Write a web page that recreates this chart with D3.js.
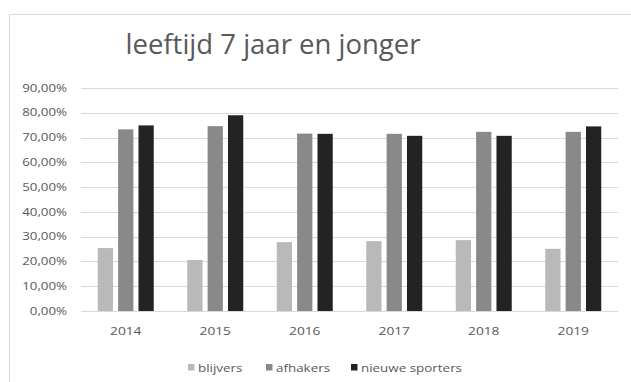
<!DOCTYPE html>
<html>
<head>
<meta charset="utf-8">
<script src="https://cdn.jsdelivr.net/npm/d3@7"></script>
<style>
  html, body { margin: 0; padding: 0; background: #fff; }
  svg { display: block; }
  text { font-family: "Open Sans", "Noto Sans", sans-serif; fill: #595959; }
</style>
</head>
<body>
<svg id="chart" width="631" height="382"></svg>
<script>
// Chart data
const years = ["2014", "2015", "2016", "2017", "2018", "2019"];
const seriesNames = ["blijvers", "afhakers", "nieuwe sporters"];
const blijvers = [25.4, 20.6, 27.8, 28.2, 28.6, 25.1];
const afhakers = [73.3, 74.6, 71.6, 71.5, 72.3, 72.3];
const nieuweSporters = [74.9, 79.0, 71.5, 70.7, 70.7, 74.5];
const yTicks = [0, 10, 20, 30, 40, 50, 60, 70, 80, 90];
const seriesColors = ["#b9b9b9", "#898989", "#232323"];
const title = "leeftijd 7 jaar en jonger";

const seriesValues = [blijvers, afhakers, nieuweSporters];
const rows = years.map((y, i) => ({
  year: y,
  values: seriesNames.map((s, k) => ({ key: s, value: seriesValues[k][i], color: seriesColors[k] }))
}));

const svg = d3.select("#chart");
const W = 631, H = 382;
const plot = { left: 81, right: 618, top: 88, bottom: 311 };
// horizontal widening applied to the small labels
const labelStretch = 1.33;

// Chart area frame
svg.append("rect")
  .attr("x", 9.5).attr("y", 14.5)
  .attr("width", W + 10).attr("height", H + 10)
  .attr("fill", "#fff")
  .attr("stroke", "#d9d9d9").attr("stroke-width", 1);

// Title
svg.append("text")
  .attr("x", 273).attr("y", 54)
  .attr("text-anchor", "middle")
  .attr("font-size", 27.5)
  .style("fill", "#595959")
  .text(title);

const x0 = d3.scaleBand().domain(years).range([plot.left, plot.right]).paddingInner(0).paddingOuter(0);
const x1 = d3.scaleBand().domain(seriesNames).range([-28, 28]).paddingInner(0.25);
const y = d3.scaleLinear().domain([0, 90]).range([plot.bottom, plot.top]);

// Gridlines
svg.append("g")
  .selectAll("line")
  .data(yTicks)
  .join("line")
  .attr("x1", plot.left).attr("x2", plot.right)
  .attr("y1", d => Math.round(y(d)) + 0.5).attr("y2", d => Math.round(y(d)) + 0.5)
  .attr("stroke", "#d9d9d9").attr("stroke-width", 1);

// Y axis labels
const yAxis = d3.axisLeft(y)
  .tickValues(yTicks)
  .tickSize(0)
  .tickPadding(0)
  .tickFormat(d => d3.format(".2f")(d).replace(".", ",") + "%");
const gy = svg.append("g").attr("transform", `translate(67,0)`).call(yAxis);
gy.select(".domain").remove();
gy.selectAll("text")
  .attr("font-size", 10)
  .attr("transform", `scale(${labelStretch},1)`)
  .style("fill", "#595959").attr("font-family", null);

// Bars
const groups = svg.append("g")
  .selectAll("g")
  .data(rows)
  .join("g")
  .attr("transform", d => `translate(${x0(d.year) + x0.bandwidth() / 2},0)`);

groups.selectAll("rect")
  .data(d => d.values)
  .join("rect")
  .attr("x", d => x1(d.key))
  .attr("width", x1.bandwidth())
  .attr("y", d => y(d.value))
  .attr("height", d => y(0) - y(d.value))
  .attr("fill", d => d.color);

// X axis labels
const xAxis = d3.axisBottom(x0).tickSize(0).tickPadding(0);
const gx = svg.append("g").attr("transform", `translate(0,${plot.bottom + 16})`).call(xAxis);
gx.select(".domain").remove();
gx.selectAll("text")
  .attr("font-size", 11)
  .attr("transform", `scale(1.25,1)`)
  .style("fill", "#595959").attr("font-family", null);

// Legend
const legendX = [188, 266, 351];
const legend = svg.append("g").selectAll("g")
  .data(seriesNames)
  .join("g")
  .attr("transform", (d, i) => `translate(${legendX[i]},364)`);
legend.append("rect")
  .attr("width", 6.5).attr("height", 6.5)
  .attr("fill", (d, i) => seriesColors[i]);
legend.append("text")
  .attr("transform", "translate(10,7.5) scale(1.22,1)")
  .attr("font-size", 11)
  .style("fill", "#595959")
  .text(d => d);
</script>
</body>
</html>
